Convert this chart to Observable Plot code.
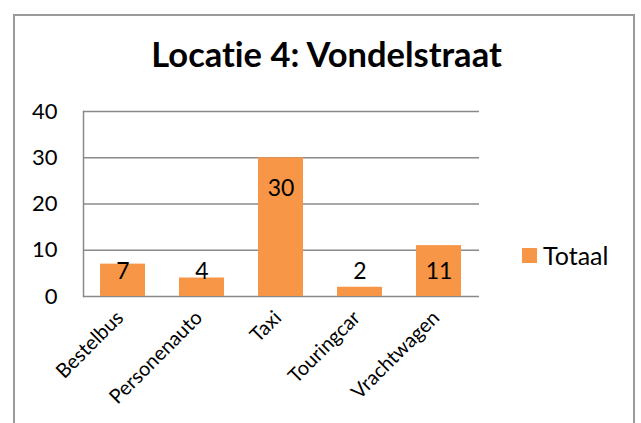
<!DOCTYPE html>
<html>
<head>
<meta charset="utf-8">
<script src="https://cdn.jsdelivr.net/npm/d3@7"></script>
<script src="https://cdn.jsdelivr.net/npm/@observablehq/plot@0.6"></script>
<style>
  html, body { margin: 0; padding: 0; background: #fff; }
  #wrap { position: relative; width: 641px; height: 423px; overflow: hidden; font-family: Lato, sans-serif; font-variant-ligatures: none; }
  #frame { position: absolute; left: 13px; top: 14px; width: 622px; height: 440px; border: 2px solid #9a9a9a; box-sizing: border-box; }
  #chart { position: absolute; left: 0; top: 0; }
  #chart svg text { font-variant-ligatures: none; }
  #legend { position: absolute; left: 522px; top: 240px; display: flex; align-items: center; font-size: 25px; color: #000; }
  #legend .sw { width: 15px; height: 15px; margin-right: 6px; }
</style>
</head>
<body>
<div id="wrap">
  <div id="frame"></div>
  <div id="chart"></div>
  <div id="legend"></div>
</div>
<script>
const title = "Locatie 4: Vondelstraat";
const seriesName = "Totaal";
const categories = ["Bestelbus", "Personenauto", "Taxi", "Touringcar", "Vrachtwagen"];
const values = [7, 4, 30, 2, 11];
const yTicks = [0, 10, 20, 30, 40];
const barColor = "#F79646";
const gridColor = "#8a8a8a";

const data = categories.map((c, i) => ({category: c, value: values[i]}));

const plot = Plot.plot({
  width: 641,
  height: 423,
  marginLeft: 83,
  marginRight: 162,
  marginTop: 111,
  marginBottom: 127,
  style: {fontFamily: "Lato, sans-serif", color: "#000", background: "transparent"},
  x: {domain: categories, paddingInner: 0.43, paddingOuter: 0.215, label: null},
  y: {domain: [0, 40], ticks: yTicks, label: null},
  marks: [
    Plot.ruleY(yTicks, {stroke: gridColor, strokeWidth: 1.5}),
    Plot.frame({anchor: "left", stroke: gridColor, strokeWidth: 1.5}),
    Plot.barY(data, {x: "category", y: "value", fill: barColor}),
    Plot.text(data, {
      x: "category",
      y: d => Math.max(d.value, 12.1),
      text: d => String(d.value),
      dy: 38,
      lineAnchor: "bottom",
      fontSize: 23,
      fill: "#000"
    }),
    Plot.axisY({ticks: yTicks, tickSize: 0, tickPadding: 26, fontSize: 22, tickFormat: d => String(d)}),
    Plot.axisX({tickSize: 0, tickPadding: 18, tickRotate: -45, fontSize: 20, dx: -3}),
    Plot.text([title], {frameAnchor: "top", dx: 45, dy: -45, lineAnchor: "bottom", fontSize: 34.5, fontWeight: "bold", fill: "#000"})
  ]
});
document.getElementById("chart").appendChild(plot);

const legend = document.getElementById("legend");
const sw = document.createElement("div");
sw.className = "sw";
sw.style.background = barColor;
const lab = document.createElement("span");
lab.textContent = seriesName;
legend.appendChild(sw);
legend.appendChild(lab);
</script>
</body>
</html>
